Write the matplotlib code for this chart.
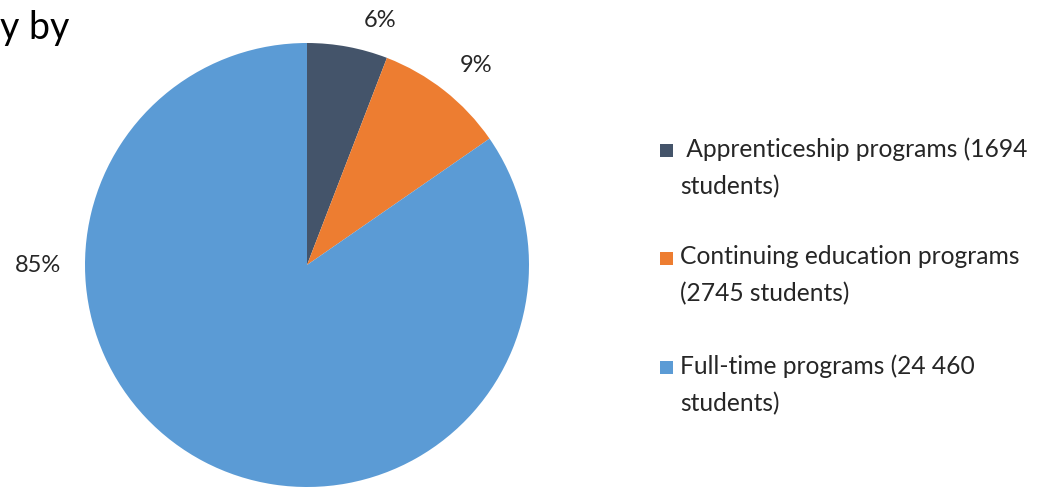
import matplotlib.pyplot as plt
from matplotlib.patches import Rectangle

plt.rcParams['font.family'] = ['Lato', 'DejaVu Sans']

# data
programs = [" Apprenticeship programs (1694\nstudents)",
            "Continuing education programs\n(2745 students)",
            "Full-time programs (24 460\nstudents)"]
students = [1694, 2745, 24460]
pct_labels = ["6%", "9%", "85%"]
colors = ["#44546a", "#ed7d31", "#5b9bd5"]

W, H = 1040, 488
fig = plt.figure(figsize=(10.4, 4.88), dpi=100)

# pie: center at (307, 265) px, radius 222 px
ax = fig.add_axes([(307 - 222) / W, (H - 265 - 222) / H, 444 / W, 444 / H])
wedges, _ = ax.pie(students, colors=colors, startangle=90, counterclock=False,
                   radius=1, wedgeprops=dict(linewidth=0))
ax.set_xlim(-1, 1)
ax.set_ylim(-1, 1)
ax.set_aspect('equal')
ax.axis('off')

# percent labels, placed like the original
label_pos = [(0.33, 1.10), (0.76, 0.90), (-1.21, 0.0)]
for txt, (x, y) in zip(pct_labels, label_pos):
    ax.text(x, y, txt, ha='center', va='center', fontsize=17, color='#262626',
            clip_on=False)

# cut-off title fragment
fig.text(0.0, 1 - 28 / H, "y by", fontsize=27, color='black', ha='left', va='center')

# legend, drawn by hand: square + two-line label
first_line_y = [150, 258, 367]
for lab, c, y in zip(programs, colors, first_line_y):
    fig.patches.append(Rectangle((660 / W, 1 - (y + 7) / H), 13 / W, 13 / H,
                                 facecolor=c, edgecolor='none',
                                 transform=fig.transFigure, figure=fig))
    fig.text(680 / W, 1 - (y - 13) / H, lab, fontsize=17.7, color='#262626',
             ha='left', va='top', linespacing=1.75)

fig.savefig("out.png", dpi=100)
